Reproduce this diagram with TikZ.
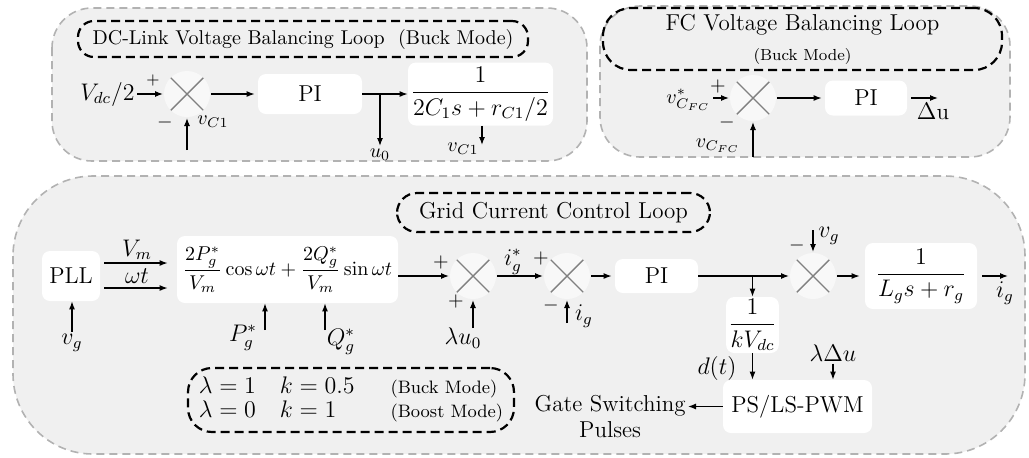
\documentclass[tikz,border=0pt]{standalone}
\usepackage{amsmath}
\usetikzlibrary{arrows.meta}
\definecolor{panelfill}{gray}{0.94}
\definecolor{paneldraw}{gray}{0.70}
\definecolor{crossgray}{gray}{0.50}
\tikzset{
  panel/.style={draw=paneldraw, fill=panelfill, line width=0.8pt, dash pattern=on 4pt off 2.5pt},
  titlebox/.style={draw=black, line width=1.1pt, dash pattern=on 4.5pt off 2.5pt, inner sep=2pt},
  wbox/.style={fill=white, rounded corners=4pt, inner sep=1pt},
  arr/.style={-{Latex[length=4pt,width=3pt]}, line width=0.6pt},
  lbl/.style={inner sep=1pt},
  sgn/.style={inner sep=0pt, font=\fontsize{10}{12}\selectfont},
  xsum/.style={circle, fill=white!55!panelfill, minimum size=23pt, inner sep=0pt, outer sep=0.5pt,
    path picture={\draw[crossgray, line width=0.7pt]
      (path picture bounding box.north west) -- (path picture bounding box.south east)
      (path picture bounding box.north east) -- (path picture bounding box.south west);}},
  every node/.style={font=\fontsize{11.5}{13}\selectfont},
}
\begin{document}
\begin{tikzpicture}[x=0.5pt,y=-0.5pt]
\useasboundingbox (0,0) rectangle (1029,457);
% panels
\draw[panel, rounded corners=20pt] (52,8) rectangle (587,161);
\draw[panel, rounded corners=20pt] (600,6) rectangle (1010,157);
\draw[panel, rounded corners=40pt] (13,176) rectangle (1025,454);

% ---------------- DC-link loop
\node[titlebox, rounded corners=8pt, minimum width=225pt, minimum height=18pt,
      font=\fontsize{10}{12}\selectfont] (t1) at (303,39)
      {DC-Link Voltage Balancing Loop\ \ (Buck Mode)};
\node[lbl, anchor=east] (vdc) at (137,94) {$V_{dc}/2$};
\node[xsum] (c1) at (187,94) {};
\draw[arr] (vdc.east |- c1.west) -- (c1.west);
\node[sgn, font=\fontsize{8}{9}\selectfont] (p1) at (153,80) {$+$};
\node[sgn] (m1) at (165,122) {$-$};
\node[lbl, font=\fontsize{10}{12}\selectfont] (vc1a) at (213,122) {$v_{C1}$};
\coordinate (c1in) at (187,150);
\draw[arr] (c1in) -- (c1.south);
\node[wbox, minimum width=52pt, minimum height=20pt] (pi1) at (310,94) {PI};
\draw[arr, shorten >=1.5pt] (c1.east) -- (c1.east -| pi1.west);
\node[wbox, minimum width=72.5pt, minimum height=31.5pt] (f1) at (480.5,94) {$\dfrac{1}{2C_1s+r_{C1}/2}$};
\draw[arr] (pi1.east) -- (pi1.east -| f1.west);
\node[lbl, anchor=north, font=\fontsize{10}{12}\selectfont] (u0) at (380,146) {$u_0$};
\draw[arr] (pi1.east -| u0.north) -- (u0.north);
\node[lbl, font=\fontsize{10}{12}\selectfont] (vc1b) at (463,149) {$v_{C1}$};
\coordinate (vc1end) at (482,145);
\draw[arr] (f1.south -| vc1end) -- (vc1end);

% ---------------- FC loop
\node[titlebox, rounded corners=14pt, minimum width=199.5pt, minimum height=31pt, align=center] (t2) at (802.5,39)
      {FC Voltage Balancing Loop\\[2pt]{\fontsize{8}{9}\selectfont (Buck Mode)}};
\node[xsum] (c2) at (753,98) {};
\node[lbl, anchor=east, font=\fontsize{10}{12}\selectfont] (vfc) at (713,100) {$v^*_{C_{FC}}$};
\draw[arr] (vfc.east |- c2.west) -- (c2.west);
\node[sgn] (p2) at (718,86) {$+$};
\node[sgn] (m2) at (727,122) {$-$};
\node[lbl, font=\fontsize{10}{12}\selectfont] (vfcb) at (718,146) {$v_{C_{FC}}$};
\coordinate (c2in) at (753,157);
\draw[arr] (c2in) -- (c2.south);
\node[wbox, minimum width=41pt, minimum height=17.5pt] (pi3) at (866,98) {PI};
\draw[arr, shorten >=1.5pt] (c2.east) -- (pi3.west);
\coordinate (du) at (938,98);
\draw[arr, shorten <=2pt] (pi3.east) -- (du);
\node[lbl, anchor=north] (dul) at (933,101) {$\Delta$u};

% ---------------- Grid current loop
\node[titlebox, rounded corners=10pt, minimum width=156.5pt, minimum height=19.5pt] (t3) at (553.5,212.5)
      {Grid Current Control Loop};
\node[wbox, minimum width=29pt, minimum height=25pt] (pll) at (71,276) {PLL};
\node[wbox, minimum width=110.5pt, minimum height=33.5pt, font=\fontsize{10}{12}\selectfont] (big) at (287.5,269.5)
      {$\dfrac{2P_g^*}{V_m}\cos\omega t+\dfrac{2Q_g^*}{V_m}\sin\omega t$};
\coordinate (vmS) at ([yshift=6.5pt]pll.east);
\coordinate (wtS) at ([yshift=-6pt]pll.east);
\draw[arr, shorten <=2pt, shorten >=4.5pt] (vmS) -- (vmS -| big.west);
\draw[arr, shorten <=2pt, shorten >=4.5pt] (wtS) -- (wtS -| big.west);
\node[lbl, anchor=south] (vml) at (137,262) {$V_m$};
\node[lbl, anchor=south] (wtl) at (137,286) {$\omega t$};
\node[lbl] (vg1) at (72,343) {$v_g$};
\draw[arr] (vg1.north) -- (vg1.north |- pll.south);
\coordinate (pgS) at (265,330);
\coordinate (qgS) at (325,330);
\draw[arr] (pgS) -- (pgS |- big.south);
\draw[arr] (qgS) -- (qgS |- big.south);
\node[lbl] (pgl) at (243,338) {$P_g^*$};
\node[lbl] (qgl) at (341,342) {$Q_g^*$};
\node[xsum] (g1) at (473,276) {};
\draw[arr] (big.east |- g1.west) -- (g1.west);
\node[sgn] (p3) at (441,262) {$+$};
\node[sgn] (p4) at (456,301) {$+$};
\node[lbl] (lu0) at (463,338) {$\lambda u_0$};
\coordinate (g1in) at (473,328);
\draw[arr] (g1in) -- (g1.south);
\node[xsum] (g2) at (567,276) {};
\draw[arr] (g1.east) -- (g2.west);
\node[lbl] (igs) at (513,262) {$i_g^*$};
\node[sgn] (p5) at (541,258) {$+$};
\node[sgn] (m5) at (551,305) {$-$};
\node[lbl] (igl) at (584,316) {$i_g$};
\coordinate (g2in) at (567,323);
\draw[arr] (g2in) -- (g2.south);
\node[wbox, minimum width=41.5pt, minimum height=17pt] (pi2) at (656.5,276) {PI};
\draw[arr, shorten >=1.5pt] (g2.east) -- (pi2.west);
\node[xsum] (g3) at (813,276) {};
\draw[arr] (pi2.east) -- (g3.west);
\node[wbox, minimum width=24.5pt, minimum height=28pt] (kv) at (752.5,325) {$\dfrac{1}{kV_{dc}}$};
\draw[arr] (pi2.east -| kv.north) -- (kv.north);
\node[sgn] (m6) at (797,245) {$-$};
\node[lbl] (vg2) at (829,236) {$v_g$};
\coordinate (g3in) at (813,230);
\draw[arr] (g3in) -- (g3.north);
\node[wbox, minimum width=56pt, minimum height=33pt] (f2) at (921,276) {$\dfrac{1}{L_gs+r_g}$};
\draw[arr, shorten >=2.5pt] (g3.east) -- (f2.west);
\coordinate (igout) at (1008,276);
\draw[arr, shorten <=2.5pt] (f2.east) -- (igout);
\node[lbl] (igo) at (1005,293) {$i_g$};
\node[wbox, minimum width=74.5pt, minimum height=26.5pt] (pwm) at (797.5,406.5) {PS/LS-PWM};
\draw[arr] (kv.south) -- (kv.south |- pwm.north);
\node[lbl] (dt) at (717,368) {$d(t)$};
\node[lbl] (ldu) at (833,353) {$\lambda\Delta u$};
\draw[arr] (ldu.south) -- (ldu.south |- pwm.north);
\node[lbl, align=center, anchor=north east] (gs) at (688,393) {Gate Switching\\Pulses};
\draw[arr] (pwm.west) -- (pwm.west -| gs.east);
\node[titlebox, rounded corners=12pt, minimum width=163pt, minimum height=32pt, inner sep=1pt] (lam) at (351,400)
 {\begin{tabular}{@{}l@{\hspace{12pt}}l@{\hspace{18pt}}l@{}}
  $\lambda=1$ & $k=0.5$ & {\fontsize{9}{11}\selectfont (Buck Mode)}\\[-1pt]
  $\lambda=0$ & $k=1$ & {\fontsize{9}{11}\selectfont (Boost Mode)}
  \end{tabular}};
\end{tikzpicture}
\end{document}
